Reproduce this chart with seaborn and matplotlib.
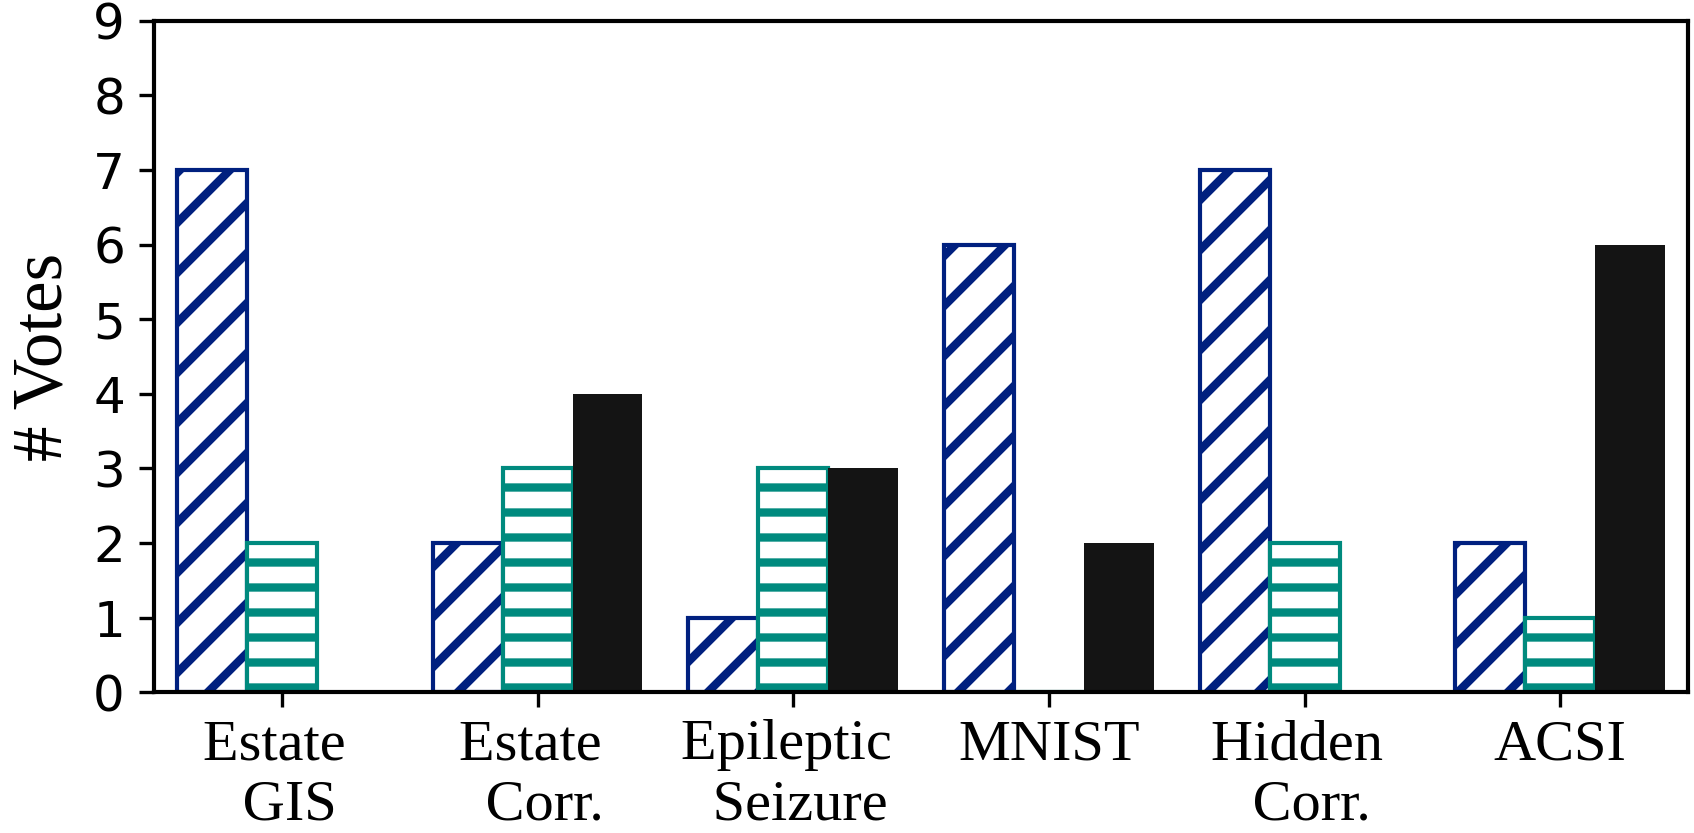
import pandas as pd
import matplotlib
matplotlib.use('Agg')
import matplotlib.pyplot as plt
import seaborn as sns

# ── Data ──────────────────────────────────────────────────
datasets = ['Estate \n GIS', 'Estate \n Corr.', 'Epileptic \n Seizure',
            'MNIST', 'Hidden \n Corr.', 'ACSI']
methods = ['Method A', 'Method B', 'Method C']
votes_a = [7, 2, 1, 6, 7, 2]
votes_b = [2, 3, 3, 0, 2, 1]
votes_c = [0, 4, 3, 2, 0, 6]

colors = ['#00207f', '#008a7e', '#141414']
hatches = ['//', '--', '']

df = pd.DataFrame({
    'dataset': datasets * 3,
    'method': [m for m in methods for _ in datasets],
    'votes': votes_a + votes_b + votes_c,
})

# ── Plot ──────────────────────────────────────────────────
sns.set_style('ticks')
plt.rcParams['hatch.linewidth'] = 2.0
plt.rcParams['font.family'] = ['DejaVu Sans']
for key in ['text.color', 'axes.labelcolor', 'xtick.color',
            'ytick.color', 'axes.edgecolor']:
    plt.rcParams[key] = 'black'

fig, ax = plt.subplots(figsize=(1694 / 300, 833 / 300), dpi=300)
fig.subplots_adjust(left=0.091, right=0.9965, top=0.975, bottom=0.169)

sns.barplot(data=df, x='dataset', y='votes', hue='method',
            palette=colors, width=0.82, legend=False, ax=ax,
            saturation=1)

for cont, col, h in zip(ax.containers, colors, hatches):
    for bar in cont:
        if h:
            bar.set_facecolor('white')
            bar.set_hatch(h)
            bar.set_edgecolor(col)
            bar.set_linewidth(1.0)
        else:
            bar.set_facecolor(col)
            bar.set_edgecolor(col)
            bar.set_linewidth(0)

ax.set_ylim(0, 9)
ax.set_yticks(range(0, 10))
ax.set_xlim(-0.5, 5.5)
ax.tick_params(axis='y', labelsize=12, colors='black')
ax.tick_params(axis='x', labelsize=14, colors='black', pad=3)
for lbl in ax.get_xticklabels():
    lbl.set_family('Liberation Serif')
    lbl.set_linespacing(1.2)
ax.set_xlabel('')
ax.set_ylabel('# Votes', fontsize=17, family='Liberation Serif')
for sp in ax.spines.values():
    sp.set_linewidth(1.0)
    sp.set_visible(True)

plt.savefig('out.png', dpi=300)
plt.close()
